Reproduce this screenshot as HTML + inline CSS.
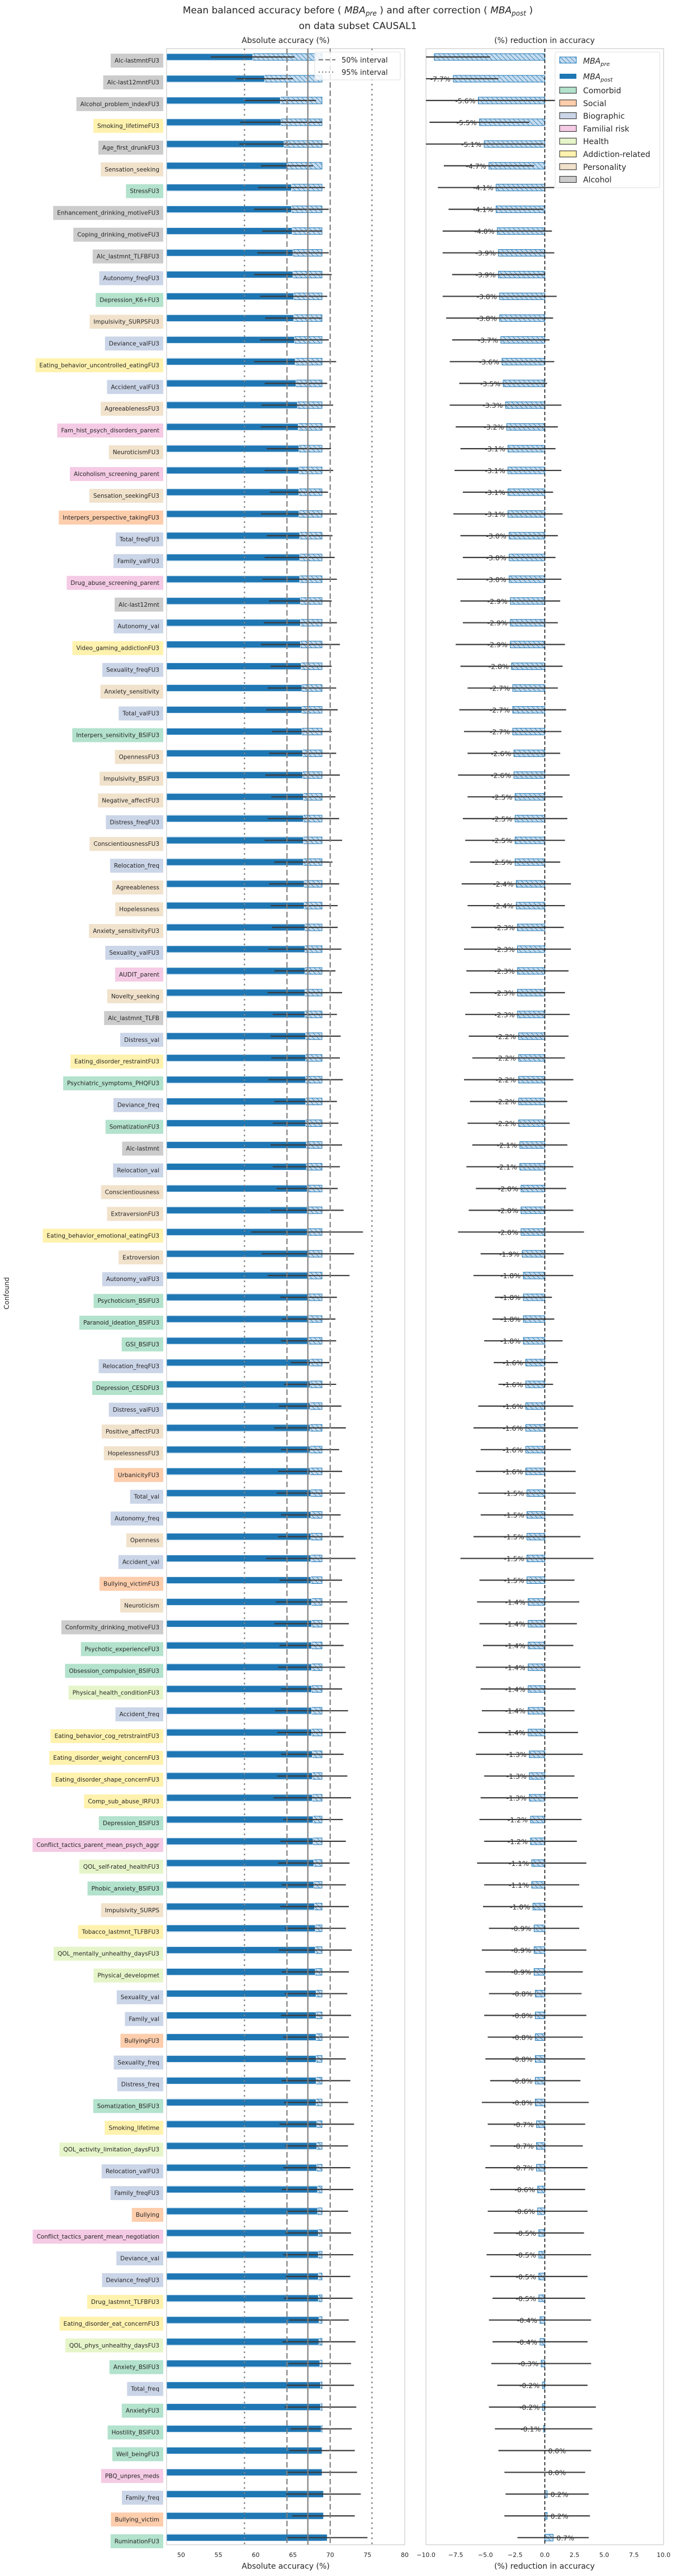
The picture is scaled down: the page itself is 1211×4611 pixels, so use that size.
<!DOCTYPE html>
<html><head><meta charset="utf-8">
<style>
html,body{margin:0;padding:0;background:#fff;}
svg{display:block;font-family:"DejaVu Sans","Liberation Sans",sans-serif;}
</style></head>
<body>
<svg id="chart" width="1211" height="4611" viewBox="0 0 1211 4611" xmlns="http://www.w3.org/2000/svg">
<defs>
<pattern id="hatch" width="6" height="6" patternUnits="userSpaceOnUse" patternTransform="rotate(-45)">
<rect width="6" height="6" fill="#c6dcef"/>
<line x1="0" y1="0" x2="0" y2="6" stroke="#1f77b4" stroke-width="1.6"/>
</pattern>
<clipPath id="clipL"><rect x="298" y="87" width="426" height="4468"/></clipPath>
<clipPath id="clipR"><rect x="762" y="87" width="425" height="4468"/></clipPath>
</defs>
<text x="640" y="24" text-anchor="middle" font-size="17" fill="#262626">Mean balanced accuracy before ( <tspan font-style="italic">MBA</tspan><tspan font-style="italic" font-size="12" dy="4">pre</tspan><tspan dy="-4"> ) and after correction ( </tspan><tspan font-style="italic">MBA</tspan><tspan font-style="italic" font-size="12" dy="4">post</tspan><tspan dy="-4"> )</tspan></text>
<text x="640" y="52" text-anchor="middle" font-size="17" fill="#262626">on data subset CAUSAL1</text>
<text x="511" y="77" text-anchor="middle" font-size="14" fill="#262626">Absolute accuracy (%)</text>
<text x="974" y="77" text-anchor="middle" font-size="14" fill="#262626">(%) reduction in accuracy</text>
<text transform="translate(16,2315) rotate(-90)" text-anchor="middle" font-size="12" fill="#262626">Confound</text>
<text x="511" y="4598" text-anchor="middle" font-size="14" fill="#262626">Absolute accuracy (%)</text>
<text x="974" y="4598" text-anchor="middle" font-size="14" fill="#262626">(%) reduction in accuracy</text>
<g id="gL"></g>
<g id="gR"></g>
<g id="gLab"></g>
</svg>
<script>
const labels = ["Alc-lastmntFU3","Alc-last12mntFU3","Alcohol_problem_indexFU3","Smoking_lifetimeFU3","Age_first_drunkFU3","Sensation_seeking","StressFU3","Enhancement_drinking_motiveFU3","Coping_drinking_motiveFU3","Alc_lastmnt_TLFBFU3","Autonomy_freqFU3","Depression_K6+FU3","Impulsivity_SURPSFU3","Deviance_valFU3","Eating_behavior_uncontrolled_eatingFU3","Accident_valFU3","AgreeablenessFU3","Fam_hist_psych_disorders_parent","NeuroticismFU3","Alcoholism_screening_parent","Sensation_seekingFU3","Interpers_perspective_takingFU3","Total_freqFU3","Family_valFU3","Drug_abuse_screening_parent","Alc-last12mnt","Autonomy_val","Video_gaming_addictionFU3","Sexuality_freqFU3","Anxiety_sensitivity","Total_valFU3","Interpers_sensitivity_BSIFU3","OpennessFU3","Impulsivity_BSIFU3","Negative_affectFU3","Distress_freqFU3","ConscientiousnessFU3","Relocation_freq","Agreeableness","Hopelessness","Anxiety_sensitivityFU3","Sexuality_valFU3","AUDIT_parent","Novelty_seeking","Alc_lastmnt_TLFB","Distress_val","Eating_disorder_restraintFU3","Psychiatric_symptoms_PHQFU3","Deviance_freq","SomatizationFU3","Alc-lastmnt","Relocation_val","Conscientiousness","ExtraversionFU3","Eating_behavior_emotional_eatingFU3","Extroversion","Autonomy_valFU3","Psychoticism_BSIFU3","Paranoid_ideation_BSIFU3","GSI_BSIFU3","Relocation_freqFU3","Depression_CESDFU3","Distress_valFU3","Positive_affectFU3","HopelessnessFU3","UrbanicityFU3","Total_val","Autonomy_freq","Openness","Accident_val","Bullying_victimFU3","Neuroticism","Conformity_drinking_motiveFU3","Psychotic_experienceFU3","Obsession_compulsion_BSIFU3","Physical_health_conditionFU3","Accident_freq","Eating_behavior_cog_retrstraintFU3","Eating_disorder_weight_concernFU3","Eating_disorder_shape_concernFU3","Comp_sub_abuse_IRFU3","Depression_BSIFU3","Conflict_tactics_parent_mean_psych_aggr","QOL_self-rated_healthFU3","Phobic_anxiety_BSIFU3","Impulsivity_SURPS","Tobacco_lastmnt_TLFBFU3","QOL_mentally_unhealthy_daysFU3","Physical_developmet","Sexuality_val","Family_val","BullyingFU3","Sexuality_freq","Distress_freq","Somatization_BSIFU3","Smoking_lifetime","QOL_activity_limitation_daysFU3","Relocation_valFU3","Family_freqFU3","Bullying","Conflict_tactics_parent_mean_negotiation","Deviance_val","Deviance_freqFU3","Drug_lastmnt_TLFBFU3","Eating_disorder_eat_concernFU3","QOL_phys_unhealthy_daysFU3","Anxiety_BSIFU3","Total_freq","AnxietyFU3","Hostility_BSIFU3","Well_beingFU3","PBQ_unpres_meds","Family_freq","Bullying_victim","RuminationFU3"];
const categories = ["A","A","A","D","A","P","C","A","A","A","B","C","P","B","D","B","P","F","P","F","P","S","B","B","F","A","B","D","B","P","B","C","P","P","P","B","P","B","P","P","P","B","F","P","A","B","D","C","B","C","A","B","P","P","D","P","B","C","C","C","B","C","B","P","P","S","B","B","P","B","S","P","A","C","C","H","B","D","D","D","D","C","F","H","C","P","D","H","H","B","B","S","B","B","C","D","H","B","B","S","F","B","B","D","D","H","C","B","C","C","C","F","B","S","C"];
const reduction = [-9.3,-7.7,-5.6,-5.5,-5.1,-4.7,-4.1,-4.1,-4.0,-3.9,-3.9,-3.8,-3.8,-3.7,-3.6,-3.5,-3.3,-3.2,-3.1,-3.1,-3.1,-3.1,-3.0,-3.0,-3.0,-2.9,-2.9,-2.9,-2.8,-2.7,-2.7,-2.7,-2.6,-2.6,-2.5,-2.5,-2.5,-2.5,-2.4,-2.4,-2.3,-2.3,-2.3,-2.3,-2.3,-2.2,-2.2,-2.2,-2.2,-2.2,-2.1,-2.1,-2.0,-2.0,-2.0,-1.9,-1.8,-1.8,-1.8,-1.8,-1.6,-1.6,-1.6,-1.6,-1.6,-1.6,-1.5,-1.5,-1.5,-1.5,-1.5,-1.4,-1.4,-1.4,-1.4,-1.4,-1.4,-1.4,-1.3,-1.3,-1.3,-1.2,-1.2,-1.1,-1.1,-1.0,-0.9,-0.9,-0.9,-0.8,-0.8,-0.8,-0.8,-0.8,-0.8,-0.7,-0.7,-0.7,-0.6,-0.6,-0.5,-0.5,-0.5,-0.5,-0.4,-0.4,-0.3,-0.2,-0.2,-0.1,-0.0,0.0,0.2,0.2,0.7];
const preAcc = [68.9,68.9,68.9,68.9,68.9,68.9,68.9,68.9,68.9,68.9,68.9,68.9,68.9,68.9,68.9,68.9,68.9,68.9,68.9,68.9,68.9,68.9,68.9,68.9,68.9,68.9,68.9,68.9,68.9,68.9,68.9,68.9,68.9,68.9,68.9,68.9,68.9,68.9,68.9,68.9,68.9,68.9,68.9,68.9,68.9,68.9,68.9,68.9,68.9,68.9,68.9,68.9,68.9,68.9,68.9,68.9,68.9,68.9,68.9,68.9,68.9,68.9,68.9,68.9,68.9,68.9,68.9,68.9,68.9,68.9,68.9,68.9,68.9,68.9,68.9,68.9,68.9,68.9,68.9,68.9,68.9,68.9,68.9,68.9,68.9,68.9,68.9,68.9,68.9,68.9,68.9,68.9,68.9,68.9,68.9,68.9,68.9,68.9,68.9,68.9,68.9,68.9,68.9,68.9,68.9,68.9,68.9,68.9,68.9,68.9,68.9,68.9,68.9,68.9,68.9];
const errLeft = [5.6,3.8,4.8,5.5,6.0,3.5,4.5,5.0,4.0,4.8,5.2,4.5,3.8,4.6,5.5,4.2,4.8,5.0,4.3,4.6,3.9,5.1,4.4,4.7,5.0,4.2,4.9,5.3,4.1,4.6,4.8,4.0,4.5,5.0,4.3,4.8,5.2,3.9,4.7,4.5,4.4,4.9,4.1,5.0,4.3,4.7,4.6,5.0,4.2,4.4,4.8,4.5,4.1,4.9,7.5,6.2,5.5,3.8,3.6,3.7,2.6,3.5,4.2,4.8,3.9,4.3,4.6,4.0,4.4,6.0,4.2,4.8,5.0,4.3,4.5,4.1,4.9,4.6,4.2,4.7,5.2,4.0,4.4,4.8,4.3,4.6,4.1,4.9,4.5,4.2,4.7,4.4,4.0,4.6,4.3,5.0,4.2,4.5,4.8,4.1,4.4,4.7,4.3,4.6,4.0,4.9,4.2,4.5,4.8,4.1,4.4,4.7,5.0,4.2,5.4];
const errRight = [4.7,3.8,6.5,4.2,5.0,3.8,4.9,4.0,4.6,4.7,3.9,4.8,4.5,4.1,4.4,3.7,4.7,4.3,4.0,4.5,3.8,4.6,4.1,3.9,4.4,4.2,4.0,4.6,4.3,3.8,4.5,4.1,3.9,4.7,4.0,4.4,4.2,3.8,4.6,4.1,3.9,4.5,4.3,4.0,4.4,4.2,3.9,4.6,4.1,4.3,4.0,4.5,3.8,4.4,5.3,3.5,4.2,2.4,2.6,3.3,2.7,2.3,4.0,4.4,3.8,4.2,4.1,3.9,4.5,5.6,4.0,4.3,4.1,3.8,4.4,4.0,3.9,4.2,4.5,3.8,4.1,4.3,3.9,4.6,4.0,4.2,3.8,4.4,4.1,3.9,4.3,4.0,4.2,3.8,4.5,4.1,3.9,4.3,4.0,4.2,3.8,4.4,4.1,3.9,4.3,4.0,4.2,3.8,4.5,4.1,3.9,3.4,3.5,3.6,3.0];
const xTicksLeft = [50,55,60,65,70,75,80];
const xTicksRight = [-10,-7.5,-5,-2.5,0,2.5,5,7.5,10];
const refLines = [{v:58.5,d:"3,6"},{v:64.2,d:"10,5"},{v:67.0,d:""},{v:70.0,d:"10,5"},{v:75.6,d:"3,6"}];

const catColor = {C:"#b3e2cd",S:"#fdcdac",B:"#cbd5e8",F:"#f4cae4",H:"#e6f5c9",D:"#fff2ae",P:"#f1e2cc",A:"#cccccc"};
const NS = "http://www.w3.org/2000/svg";
function mk(tag, attrs, parent){const e=document.createElementNS(NS,tag);for(const k in attrs)e.setAttribute(k,attrs[k]);parent.appendChild(e);return e;}
const xL = v => 324 + (v-50)*13.333;
const xR = v => 974.5 + v*21.25;
const rowY = i => 108 + i*38.95;
const gL = document.getElementById('gL'), gR = document.getElementById('gR'), gLab = document.getElementById('gLab');

let f = mk('rect',{x:298,y:87,width:426,height:4468,fill:'none',stroke:'#cccccc','stroke-width':1.2},gL);


f = mk('rect',{x:762,y:87,width:425,height:4468,fill:'none',stroke:'#cccccc','stroke-width':1.2},gR);



xTicksLeft.forEach(t=>{
  const e = mk('text',{x:xL(t),y:4577,'text-anchor':'middle','font-size':11,fill:'#262626'},gL);
  e.textContent = t;
  
  
});
xTicksRight.forEach(t=>{
  const e = mk('text',{x:xR(t),y:4577,'text-anchor':'middle','font-size':11,fill:'#262626'},gR);
  e.textContent = (t<0?'\u2212':'')+Math.abs(t).toFixed(1);
  
  
});

const cL = mk('g',{'clip-path':'url(#clipL)'},gL);
const cR = mk('g',{'clip-path':'url(#clipR)'},gR);

labels.forEach((lab,i)=>{
  const c = rowY(i), by = c-12;
  const pre = preAcc[i], post = pre + reduction[i];
  let b = mk('rect',{x:298,y:by,width:xL(pre)-298,height:12,fill:'url(#hatch)',stroke:'#1f77b4','stroke-width':1},cL);
  
  
  b = mk('rect',{x:298,y:by,width:xL(post)-298,height:12,fill:'#1f77b4',stroke:'#ffffff','stroke-width':0.8},cL);
  
  
  let er = mk('line',{x1:xL(post-errLeft[i]),x2:xL(post+errLeft[i]),y1:c-6,y2:c-6,stroke:'#3a3a3a','stroke-width':2.2},cL);
  
  
  const r = reduction[i];
  b = mk('rect',{x:Math.min(xR(0),xR(r)),y:by,width:Math.abs(xR(r)-xR(0)),height:12,fill:'url(#hatch)',stroke:'#1f77b4','stroke-width':1},cR);
  
  
  er = mk('line',{x1:xR(r-errRight[i]),x2:xR(r+errRight[i]),y1:c-6,y2:c-6,stroke:'#3a3a3a','stroke-width':2.2},cR);
  
  
  const txt = mk('text',{y:c-1,'font-size':12.5,fill:'#333333'},cR);
  if(r<0){txt.setAttribute('x',xR(r)-5);txt.setAttribute('text-anchor','end');}
  else{txt.setAttribute('x',xR(r)+6);txt.setAttribute('text-anchor','start');}
  txt.textContent = r.toFixed(1)+'%';
  if(r<0 && r>-0.05) txt.textContent='-0.0%';
  
  
  if(txt.getComputedTextLength && r<0 && xR(r)-5-txt.getComputedTextLength() < 762){ txt.remove(); }
  const lg = mk('g',{},gLab);
  
  
  const t = mk('text',{x:285,y:c+4,'text-anchor':'end','font-size':10.5,fill:'#262626'},lg);
  t.textContent = lab;
  const w = t.getComputedTextLength();
  const bg = mk('rect',{x:292-w-14,y:c-12,width:w+14,height:25,fill:catColor[categories[i]]},lg);
  lg.insertBefore(bg,t);
});

refLines.forEach((rl,k)=>{
  const l = mk('line',{x1:xL(rl.v),x2:xL(rl.v),y1:87,y2:4555,stroke:'#808080','stroke-width':2.2,'stroke-dasharray':rl.d},gL);
  
  
});
let z = mk('line',{x1:xR(0),x2:xR(0),y1:87,y2:4555,stroke:'#111111','stroke-width':1.6,'stroke-dasharray':'6,4'},gR);



const lgL = mk('g',{},gL);


mk('rect',{x:563,y:93,width:153,height:50,rx:3,fill:'#ffffff','fill-opacity':0.8,stroke:'#dddddd'},lgL);
mk('line',{x1:570,x2:600,y1:107,y2:107,stroke:'#808080','stroke-width':2.2,'stroke-dasharray':'8,4'},lgL);
mk('line',{x1:570,x2:600,y1:129,y2:129,stroke:'#808080','stroke-width':2.2,'stroke-dasharray':'2,4'},lgL);
let lt = mk('text',{x:611,y:112,'font-size':13,fill:'#262626'},lgL); lt.textContent='50% interval';
lt = mk('text',{x:611,y:134,'font-size':13,fill:'#262626'},lgL); lt.textContent='95% interval';

const lgR = mk('g',{},gR);


mk('rect',{x:993,y:93,width:187,height:243,rx:3,fill:'#ffffff','fill-opacity':0.9,stroke:'#dddddd'},lgR);
mk('rect',{x:1001,y:102,width:30,height:11,fill:'url(#hatch)',stroke:'#1f77b4','stroke-width':1},lgR);
mk('rect',{x:1001,y:132,width:30,height:9,fill:'#1f77b4'},lgR);
let t1 = mk('text',{x:1043,y:114,'font-size':14,fill:'#262626','font-style':'italic'},lgR);
t1.innerHTML = 'MBA<tspan font-size="10" dy="4">pre</tspan>';
t1 = mk('text',{x:1043,y:142,'font-size':14,fill:'#262626','font-style':'italic'},lgR);
t1.innerHTML = 'MBA<tspan font-size="10" dy="4">post</tspan>';
const legCats = [["Comorbid","C"],["Social","S"],["Biographic","B"],["Familial risk","F"],["Health","H"],["Addiction-related","D"],["Personality","P"],["Alcohol","A"]];
legCats.forEach((lc,k)=>{
  const y = 162 + k*22.8;
  mk('rect',{x:1001,y:y-6,width:30,height:11,fill:catColor[lc[1]],stroke:'#222','stroke-width':1},lgR);
  const tt = mk('text',{x:1043,y:y+5,'font-size':14,fill:'#262626'},lgR);
  tt.textContent = lc[0];
});
</script>
</body></html>
